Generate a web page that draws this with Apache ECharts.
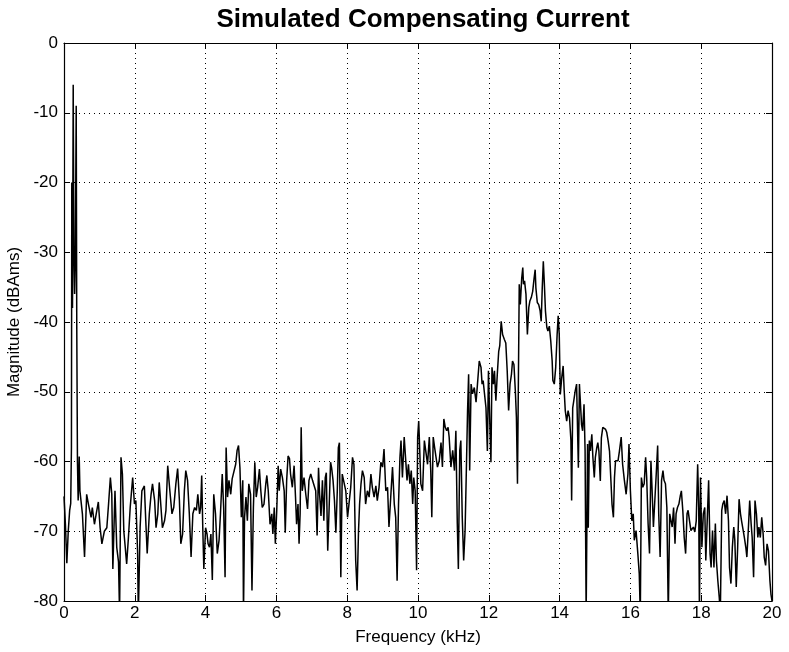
<!DOCTYPE html>
<html>
<head>
<meta charset="utf-8">
<script src="https://cdn.jsdelivr.net/npm/echarts@6/dist/echarts.min.js"></script>
<style>
html,body{margin:0;padding:0;background:#fff;}
#chart{width:789px;height:652px;}
</style>
</head>
<body>
<div id="chart"></div>
<script>
// Frequency (kHz) / magnitude (dBAms) readings, split into bands
const freqA = [0.00,0.04,0.08,0.12,0.16,0.19,0.21,0.22,0.24,0.26,0.28,0.30,0.32,0.345,0.36,0.38,0.40,0.43,0.45,0.52,0.58,0.64,0.69,0.765,0.80,0.86,0.91,0.97,1.02,1.07,1.14,1.21,1.26,1.31,1.35,1.38,1.44,1.49,1.54,1.57,1.61,1.65,1.69,1.73,1.77,1.82,1.87,1.94,1.99,2.03,2.08,2.10,2.15,2.20,2.27,2.31,2.35,2.41,2.46,2.50,2.56,2.60,2.65,2.69,2.74,2.78,2.84,2.88,2.93,2.99,3.05,3.10,3.16,3.21,3.26,3.30,3.35,3.40,3.44,3.49,3.54,3.59,3.64,3.69,3.74,3.78,3.83];
const magA  = [-65,-69,-74.6,-70,-67,-66,-58,-20,-38,-6,-30,-36,-31,-9,-40,-60,-65.6,-59.3,-64.2,-67.5,-73.7,-64.7,-66.1,-68,-66.6,-69,-67.5,-65.8,-69.5,-71.8,-70,-69.5,-66,-62.3,-64.7,-75.4,-64.2,-72.3,-74.4,-82,-59.4,-61.8,-70,-72.3,-74.7,-70.9,-66.6,-62.3,-66.1,-65.6,-73.2,-82,-69.5,-64.2,-63.5,-68.5,-73.2,-67.5,-64.7,-63.2,-65.6,-69.5,-67.5,-63,-66.6,-69.5,-68.5,-67,-60.6,-64.2,-67.5,-66.6,-63.2,-61,-65.6,-71.8,-70.4,-64.2,-61.3,-62.7,-67.5,-73.7,-67.5,-66.6,-67,-64.7,-67.5];

const freqB = [3.86,3.89,3.92,3.95,4.00,4.04,4.07,4.11,4.15,4.19,4.23,4.28,4.33,4.38,4.42,4.47,4.51,4.55,4.58,4.62,4.66,4.71,4.75,4.80,4.85,4.89,4.93,4.97,5.01,5.05,5.07,5.10,5.14,5.18,5.22,5.27,5.31,5.35,5.39,5.43,5.47,5.52,5.56,5.60,5.65,5.70,5.73,5.77,5.82,5.87,5.90,5.94,5.97,6.01,6.05,6.08,6.12,6.17,6.22,6.25,6.29,6.33,6.37,6.40,6.45,6.50,6.54,6.57,6.61,6.64,6.67,6.70,6.73,6.78,6.83,6.88,6.92,6.97,7.02,7.06,7.11,7.15,7.19,7.22,7.26,7.30,7.34,7.38,7.41,7.45,7.49,7.53,7.56,7.60,7.64,7.68,7.72,7.75,7.78,7.82];
const magB  = [-66.6,-62,-69.5,-75.4,-69.5,-70.4,-71.8,-72.3,-70.4,-77,-64.7,-67.5,-73.2,-71.3,-67.5,-61.8,-66.6,-76.6,-58,-65.1,-62.7,-64.7,-62.5,-62.3,-60.4,-58.4,-57.7,-60.9,-68,-62.7,-82,-68,-65.1,-68.5,-63.2,-64.7,-78.5,-66.6,-60.1,-65.1,-63.7,-61.1,-64.2,-66.6,-66.1,-63.2,-62,-64.2,-69,-67.5,-70.4,-66.6,-71.8,-67,-60.6,-64.2,-61.1,-62.3,-64.2,-70.2,-62.7,-59.2,-59.6,-61.8,-63.7,-60.6,-65.1,-69,-66.1,-71.8,-67.5,-55.1,-64.2,-62.3,-64.7,-66.8,-62.7,-61.8,-62.7,-62.7,-64.2,-70.6,-60.9,-64.7,-67.8,-62.7,-68.5,-62.3,-61.6,-72.8,-66.6,-60.1,-60.9,-62.7,-65.6,-70.2,-64.2,-58,-57.3,-76.6];

const freqC = [7.86,7.91,7.96,8.01,8.05,8.10,8.15,8.19,8.24,8.28,8.32,8.35,8.39,8.43,8.48,8.52,8.57,8.62,8.67,8.71,8.76,8.81,8.85,8.90,8.95,9.00,9.04,9.09,9.14,9.18,9.23,9.28,9.33,9.37,9.41,9.45,9.49,9.52,9.56,9.61,9.66,9.69,9.73,9.77,9.81,9.85,9.88,9.92,9.96,9.99,10.02,10.04,10.08,10.13,10.18,10.22,10.27,10.32,10.36,10.39,10.43,10.47,10.51,10.55,10.60,10.65,10.69,10.73,10.77,10.81,10.85,10.88,10.93,10.98,11.03,11.07,11.11,11.14,11.18,11.21,11.25,11.29,11.33,11.36,11.40,11.43,11.46,11.50,11.54,11.59,11.64,11.68];
const magC  = [-61.8,-61.6,-64.2,-68,-66.1,-63.7,-59.4,-60.4,-74.2,-78.5,-69.9,-66.1,-63.2,-61.3,-62.3,-66.1,-64.2,-65.1,-61.8,-63.7,-65.1,-63.5,-65.6,-63.7,-60.1,-60.8,-58.2,-64.2,-63.7,-69.4,-65.1,-60.8,-66.1,-68,-77.1,-66.1,-59.4,-57,-62.3,-56.5,-56.5,-62.7,-60.4,-63.2,-61.3,-66.1,-62.3,-64.2,-75.6,-56.5,-54.2,-57,-63.2,-64.2,-57,-57,-60.4,-56.5,-61.3,-68,-56.5,-58,-59.4,-60.8,-59.9,-57.3,-60.8,-53.9,-55.1,-55.6,-55.1,-56.5,-60.8,-58.4,-61.3,-55.6,-68.9,-75.4,-58.4,-57,-68,-74.2,-69.9,-62.7,-52.7,-47.5,-61.3,-48.9,-50.3,-49.4,-51.5,-48.9];

const freqD = [11.73,11.78,11.81,11.84,11.89,11.92,11.96,11.99,12.03,12.06,12.09,12.13,12.16,12.20,12.24,12.28,12.31,12.35,12.39,12.44,12.48,12.52,12.56,12.60,12.64,12.67,12.71,12.75,12.78,12.81,12.83,12.86,12.89,12.93,12.96,12.98,13.01,13.05,13.09,13.13,13.16,13.20,13.24,13.28,13.31,13.33,13.37,13.41,13.45,13.48,13.51,13.54,13.57,13.60,13.64,13.67,13.71,13.75,13.79,13.81,13.85,13.89,13.93,13.96,13.99,14.02,14.06,14.10,14.13,14.16,14.20,14.24,14.28,14.32,14.34,14.37,14.40,14.44,14.48,14.50,14.53,14.56,14.59,14.62,14.65,14.69,14.72,14.75,14.79,14.81,14.84,14.87,14.91,14.94,14.98,15.01,15.05,15.08,15.11,15.15,15.18,15.22,15.26,15.30,15.33,15.37,15.41,15.45,15.48,15.52,15.55,15.58,15.62,15.65,15.69];
const magD  = [-45.6,-46.5,-48.9,-48.4,-48.2,-52.3,-58.5,-47,-54.7,-60.1,-46.5,-48.9,-47,-51.3,-47.5,-44.2,-43.4,-39.9,-41.8,-42.5,-43,-47,-52.7,-48.9,-47.5,-45.6,-46.1,-49.9,-53.7,-63.2,-51.8,-34.6,-37.5,-33.7,-32.2,-34.6,-34.1,-36,-41.8,-37.9,-37,-36.5,-35.6,-33.7,-32.5,-35.1,-37.2,-37.5,-38.4,-39.9,-35.1,-31.3,-34.6,-38.4,-40.8,-41.3,-40.6,-42.7,-45.6,-48.4,-48.9,-46.5,-41.8,-39.1,-41.8,-50.4,-48,-46.3,-49.9,-52.7,-54.2,-52.7,-53.7,-57,-65.6,-52.3,-51.3,-49.9,-48.9,-53.7,-60.9,-48.9,-48.7,-54.7,-55.6,-51.8,-58.5,-82,-57.5,-69.5,-57,-58.5,-56.1,-59.4,-62.3,-59.4,-58,-57.3,-58.5,-62.8,-56.6,-55.1,-54.9,-55.4,-55.8,-57,-58.5,-62.8,-66.1,-68,-62.3,-59.9,-60.1,-59.9,-58.5];

const freqE = [15.74,15.78,15.83,15.88,15.93,15.96,16.00,16.04,16.08,16.11,16.16,16.21,16.25,16.28,16.31,16.35,16.39,16.43,16.46,16.50,16.54,16.58,16.61,16.65,16.69,16.73,16.77,16.80,16.84,16.88,16.92,16.95,16.99,17.03,17.07,17.11,17.14,17.18,17.22,17.26,17.29,17.33,17.37,17.41,17.44,17.48,17.52,17.56,17.60,17.63,17.67,17.71,17.75,17.78,17.82,17.86,17.90,17.93,17.95,17.98,18.02,18.06,18.10,18.13,18.17,18.21,18.25,18.28,18.32,18.36,18.40,18.43,18.47,18.51,18.54,18.58,18.61,18.65,18.69,18.73,18.77,18.80,18.84,18.88,18.92,18.95,18.99,19.03,19.07,19.11,19.14,19.18,19.22,19.26,19.29,19.33,19.37,19.41,19.44,19.48,19.52,19.56,19.60,19.63,19.67,19.71,19.75,19.78,19.82,19.86,19.90,19.94,19.97,20.00];
const magE  = [-56.5,-60.4,-62.7,-64.7,-61.8,-57.5,-64.2,-68.5,-67.5,-71.3,-69.9,-73.2,-76.1,-82,-62.3,-63.7,-63.2,-59.4,-62.3,-68.9,-73.2,-59.9,-63.7,-69.4,-65.6,-61.8,-57.7,-67.5,-73.7,-62.7,-61.3,-62.7,-63.2,-66.6,-82,-67.5,-67.3,-69.4,-66.6,-71.8,-67.5,-66.6,-66.1,-64.9,-64.2,-67,-70.9,-73.2,-67.5,-67,-68.5,-69.9,-69.9,-69.4,-70.1,-68.5,-60.4,-66.6,-82,-62.3,-72.3,-67.5,-66.6,-74.2,-68.5,-62.7,-73.2,-75.2,-69.9,-75.2,-68.9,-74.2,-77.1,-79.5,-82,-67,-66.1,-65.6,-67.5,-64.9,-68.5,-75.2,-77.5,-72.3,-69.4,-71.3,-78,-72.3,-65.4,-67.5,-68.5,-69.7,-70.9,-72.3,-73.7,-69.9,-65.6,-68.9,-70.9,-76.6,-65.6,-67.5,-70.9,-69.4,-70.9,-68,-70.4,-73.7,-74.9,-71.8,-72.8,-77,-79,-80];

const xTicks = {min: 0, max: 20, step: 2};
const yTicks = {min: -80, max: 0, step: 10};

const freqs = [].concat(freqA, freqB, freqC, freqD, freqE);
const mags = [].concat(magA, magB, magC, magD, magE);
const seriesData = freqs.map((f, i) => [f, mags[i]]);

const FONT = '"Liberation Sans", Arial, Helvetica, sans-serif';
const chart = echarts.init(document.getElementById('chart'), null, {renderer: 'canvas'});

const dotted = {show: true, lineStyle: {color: '#000', width: 1, type: [1, 4]}};
const tickIn = {show: true, inside: true, length: 6, lineStyle: {color: '#000', width: 1}};
const axLine = {show: true, onZero: false, lineStyle: {color: '#000', width: 1.2}};

chart.setOption({
  animation: false,
  backgroundColor: '#fff',
  title: {
    text: 'Simulated Compensating Current',
    left: 418, top: 2, textAlign: 'center',
    textStyle: {fontFamily: FONT, fontSize: 26, fontWeight: 'bold', color: '#000'}
  },
  grid: {left: 64, right: 17, top: 43, bottom: 51, show: false, containLabel: false, outerBoundsMode: 'none'},
  xAxis: [{
    type: 'value', min: xTicks.min, max: xTicks.max, interval: xTicks.step,
    position: 'bottom',
    name: 'Frequency (kHz)', nameLocation: 'middle', nameGap: 28,
    nameTextStyle: {fontFamily: FONT, fontSize: 17, color: '#000'},
    axisLine: axLine, axisTick: tickIn, splitLine: dotted,
    axisLabel: {fontFamily: FONT, fontSize: 17, color: '#000', margin: 4}
  }, {
    type: 'value', min: xTicks.min, max: xTicks.max, interval: xTicks.step,
    position: 'top',
    axisLine: axLine, axisTick: tickIn, splitLine: {show: false},
    axisLabel: {show: false}
  }],
  yAxis: [{
    type: 'value', min: yTicks.min, max: yTicks.max, interval: yTicks.step,
    position: 'left',
    name: 'Magnitude (dBAms)', nameLocation: 'middle', nameGap: 41, nameRotate: 90,
    nameTextStyle: {fontFamily: FONT, fontSize: 17, color: '#000'},
    axisLine: axLine, axisTick: tickIn, splitLine: dotted,
    axisLabel: {fontFamily: FONT, fontSize: 17, color: '#000', margin: 6}
  }, {
    type: 'value', min: yTicks.min, max: yTicks.max, interval: yTicks.step,
    position: 'right',
    axisLine: axLine, axisTick: tickIn, splitLine: {show: false},
    axisLabel: {show: false}
  }],
  series: [{
    type: 'line',
    xAxisIndex: 0, yAxisIndex: 0,
    data: seriesData,
    showSymbol: false, symbol: 'none',
    clip: true,
    lineStyle: {color: '#000', width: 1.5},
    silent: true
  }]
});
</script>
</body>
</html>
